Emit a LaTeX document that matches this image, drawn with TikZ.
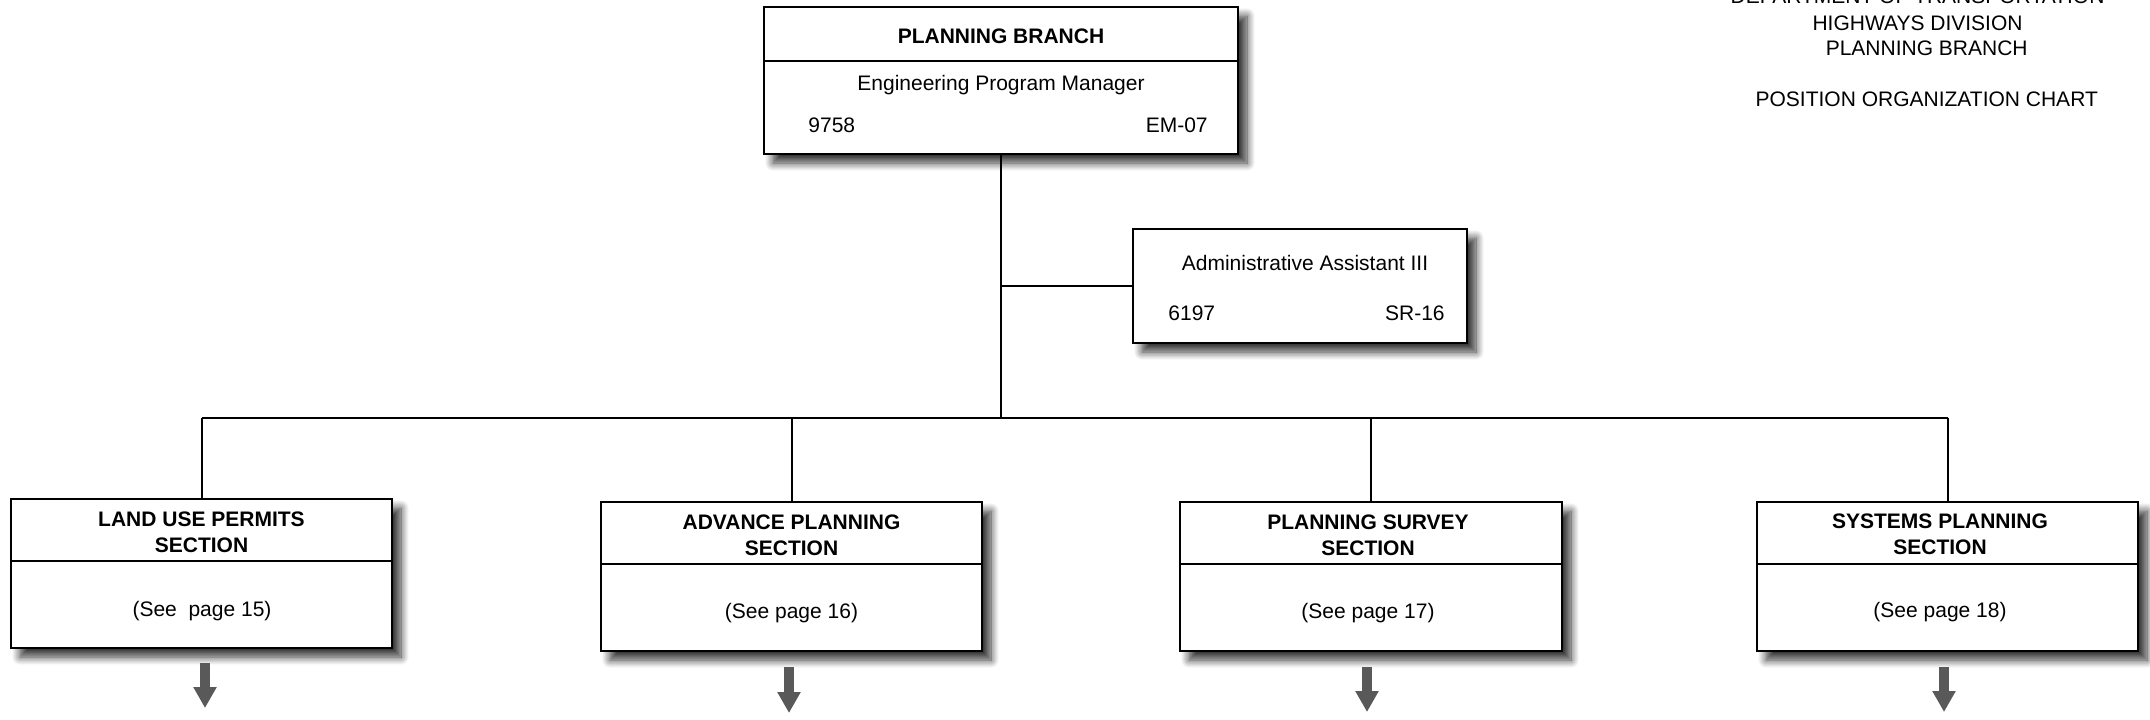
\documentclass[tikz,border=0pt]{standalone}
\usepackage{fontspec}
\setmainfont{Liberation Sans}
\usetikzlibrary{shadows.blur,arrows.meta}
\definecolor{arrowgray}{HTML}{595959}
\begin{document}
\begin{tikzpicture}[x=0.5pt,y=-0.5pt,
  box/.style={draw=black, line width=1.3pt, fill=white, rectangle, inner sep=0pt,
    blur shadow={shadow xshift=4.5pt, shadow yshift=-4.5pt, shadow blur radius=4pt, shadow blur steps=10, shadow opacity=80}},
  txt/.style={font=\fontsize{10.5}{13}\selectfont, inner sep=0pt},
  ttl/.style={font=\bfseries\fontsize{10.5}{13}\selectfont, inner sep=0pt, align=center},
  divider/.style={line width=1pt, black},
  conn/.style={line width=1pt, black},
  downarrow/.style={line width=5pt, color=arrowgray, -{Triangle[width=11pt,length=10.5pt]}}
]
\useasboundingbox (0,0) rectangle (2150,719);

% header
\node[txt, anchor=base] (h0) at (1917.5,3.5) {DEPARTMENT OF TRANSPORTATION};
\node[txt, anchor=base] (h1) at (1917.5,30) {HIGHWAYS DIVISION};
\node[txt, anchor=base] (h2) at (1926.7,55) {PLANNING BRANCH};
\node[txt, anchor=base] (h3) at (1926.7,106) {POSITION ORGANIZATION CHART};

% boxes
\node[box, minimum width=237pt, minimum height=73.5pt] (top) at (1001,80.5) {};
\node[box, minimum width=167pt, minimum height=57pt] (admin) at (1300,286) {};
\node[box, minimum width=190.5pt, minimum height=74.5pt] (b1) at (201.5,573.5) {};
\node[box, minimum width=190.5pt, minimum height=74.5pt] (b2) at (791.5,576.5) {};
\node[box, minimum width=191pt, minimum height=74.5pt] (b3) at (1371,576.5) {};
\node[box, minimum width=190.5pt, minimum height=74.5pt] (b4) at (1947.5,576.5) {};

% dividers
\draw[divider] (764,61) -- (1238,61);
\draw[divider] (11,561) -- (392,561);
\draw[divider] (601,563.5) -- (982,563.5);
\draw[divider] (1180,563.5) -- (1562,563.5);
\draw[divider] (1757,563.5) -- (2138,563.5);

% texts
\node[ttl, anchor=base] (tt) at (1001,43) {PLANNING BRANCH};
\node[txt, anchor=base] (tj) at (1001,90) {Engineering Program Manager};
\node[txt, anchor=base west] (tn) at (808,132.5) {9758};
\node[txt, anchor=base east] (tg) at (1208,132.5) {EM-07};

\node[txt, anchor=base] (aj) at (1305,270.5) {Administrative Assistant III};
\node[txt, anchor=base west] (an) at (1168,320) {6197};
\node[txt, anchor=base east] (ag) at (1445,320) {SR-16};

\node[ttl] (t1) at (201.5,532.2) {LAND USE PERMITS\\SECTION};
\node[txt, anchor=base] (p1) at (202,616.7) {(See~~page 15)};
\node[ttl] (t2) at (791.5,535) {ADVANCE PLANNING\\SECTION};
\node[txt, anchor=base] (p2) at (791.5,618) {(See page 16)};
\node[ttl] (t3) at (1368,535) {PLANNING SURVEY\\SECTION};
\node[txt, anchor=base] (p3) at (1368,618) {(See page 17)};
\node[ttl] (t4) at (1940,534.5) {SYSTEMS PLANNING\\SECTION};
\node[txt, anchor=base] (p4) at (1940,617) {(See page 18)};

% connectors
\coordinate (jbus) at (1001,418);
\coordinate (jadm) at (1001,286);
\draw[conn] (top.south) -- (jbus);
\draw[conn] (jadm) -- (admin.west);
\draw[conn] (b1.north |- jbus) -- (b4.north |- jbus);
\draw[conn] (b1.north |- jbus) -- (b1.north);
\draw[conn] (b2.north |- jbus) -- (b2.north);
\draw[conn] (b3.north |- jbus) -- (b3.north);
\draw[conn] (b4.north |- jbus) -- (b4.north);

% continuation arrows
\coordinate (a1s) at (205,663);  \coordinate (a1e) at (205,708);
\coordinate (a2s) at (789,667);  \coordinate (a2e) at (789,713);
\coordinate (a3s) at (1367,667); \coordinate (a3e) at (1367,712);
\coordinate (a4s) at (1944,667); \coordinate (a4e) at (1944,712);
\draw[downarrow] (a1s) -- (a1e);
\draw[downarrow] (a2s) -- (a2e);
\draw[downarrow] (a3s) -- (a3e);
\draw[downarrow] (a4s) -- (a4e);
\end{tikzpicture}
\end{document}
